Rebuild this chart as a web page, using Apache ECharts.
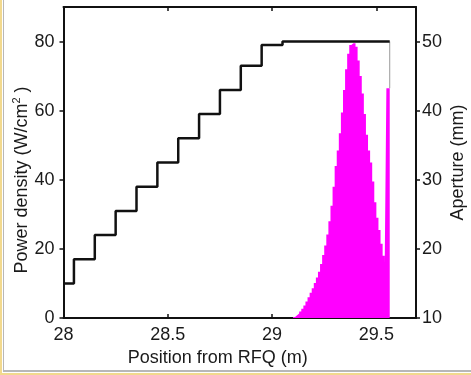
<!DOCTYPE html>
<html>
<head>
<meta charset="utf-8">
<script src="https://cdn.jsdelivr.net/npm/echarts@6/dist/echarts.min.js"></script>
<style>
  html, body { margin: 0; padding: 0; background: #ffffff; }
  #chart { position: absolute; left: 0; top: 0; width: 471px; height: 375px; }
  .deco { position: absolute; }
</style>
</head>
<body>
<div id="chart"></div>
<div class="deco" style="left:0;top:0;width:2px;height:375px;background:#f2d98e;"></div>
<div class="deco" style="left:3px;top:0;width:1px;height:372px;background:#b8b8b8;"></div>
<div class="deco" style="left:3px;top:370px;width:468px;height:2px;background:#b8b8b8;"></div>
<div class="deco" style="left:0;top:373px;width:471px;height:2px;background:#f2d98e;"></div>
<script>
// X tick settings
const xMin = 28, xMax = 29.69, xInterval = 0.5;
const leftMin = 0, leftMax = 90, leftInterval = 20;
const rightMin = 10, rightMax = 55, rightInterval = 10;

// Aperture (mm) step profile: position of each step start, and aperture value
const apertureX = [28.00, 28.05, 28.15, 28.25, 28.35, 28.45, 28.55, 28.65, 28.75, 28.85, 28.95, 29.05, 29.564];
const apertureY = [15, 18.5, 22, 25.5, 29, 32.5, 36, 39.5, 43, 46.5, 49.5, 50, 50];

// Power density (W/cm^2) histogram: bin start positions and values
const powerX = [29.10, 29.11, 29.12, 29.13, 29.14, 29.15, 29.16, 29.17, 29.18, 29.19,
                29.20, 29.21, 29.22, 29.23, 29.24, 29.25, 29.26, 29.27, 29.28, 29.29,
                29.30, 29.31, 29.32, 29.33, 29.34, 29.35, 29.36, 29.37, 29.38, 29.39,
                29.40, 29.41, 29.42, 29.43, 29.44, 29.45, 29.46, 29.47, 29.48, 29.49,
                29.50, 29.51, 29.52, 29.53, 29.54, 29.548, 29.564];
const powerY = [0.3, 0.8, 1.3, 1.9, 2.7, 3.6, 4.8, 6.0, 7.3, 8.6,
                10.1, 11.7, 13.4, 15.6, 18.2, 21.0, 24.2, 28.0, 32.5, 38.0,
                44.0, 48.5, 53.5, 59.5, 66.0, 72.0, 76.5, 79.0, 79.5, 79.5,
                78.5, 74.5, 70.0, 65.0, 59.0, 53.0, 48.5, 45.0, 39.5, 33.5,
                29.0, 25.5, 21.5, 18.0, 15.5, 66.5, 66.5];

// thin grey edge line at the end of the data
const edgeX = [29.564, 29.564];
const edgeY = [66.5, 80];

const FONT = 'Liberation Sans';
const TXT = '#1a1a1a';

const chart = echarts.init(document.getElementById('chart'), null, { renderer: 'canvas' });

const axisLine = { show: true, lineStyle: { color: '#111', width: 2 } };

const option = {
  backgroundColor: '#ffffff',
  animation: false,
  grid: { left: 63.5, right: 55, top: 7, bottom: 57, show: false, containLabel: false, outerBoundsMode: 'none' },
  xAxis: [
    {
      type: 'value', min: xMin, max: xMax, interval: xInterval, position: 'bottom',
      axisLine: axisLine,
      axisTick: { show: true, inside: true, length: 4, lineStyle: { color: '#111', width: 1.5 } },
      axisLabel: { show: true, margin: 8, fontFamily: FONT, fontSize: 18, color: TXT, showMaxLabel: false,
        formatter: v => String(v) },
      splitLine: { show: false },
      name: 'Position from RFQ (m)', nameLocation: 'middle', nameGap: 27,
      nameTextStyle: { fontFamily: FONT, fontSize: 18, color: TXT, padding: [0, 44, 0, 0] }
    },
    {
      type: 'value', min: xMin, max: xMax, interval: xInterval, position: 'top',
      axisLine: axisLine,
      axisTick: { show: true, inside: true, length: 4, lineStyle: { color: '#111', width: 1.5 } },
      axisLabel: { show: false },
      splitLine: { show: false }
    }
  ],
  yAxis: [
    {
      type: 'value', min: leftMin, max: leftMax, interval: leftInterval, position: 'left',
      axisLine: axisLine,
      axisTick: { show: true, inside: false, length: 4, lineStyle: { color: '#111', width: 1.5 } },
      axisLabel: { show: true, margin: 9, fontFamily: FONT, fontSize: 18, color: TXT, showMaxLabel: false },
      splitLine: { show: false },
      name: '{a|Power density (W/cm}{s|2}{a| )}', nameLocation: 'middle', nameGap: 30, nameRotate: 90,
      nameMoveOverlap: false,
      nameTextStyle: {
        fontFamily: FONT, fontSize: 18, color: TXT, padding: [0, 35, 0, 0],
        rich: {
          a: { fontFamily: FONT, fontSize: 18, color: TXT, lineHeight: 22 },
          s: { fontFamily: FONT, fontSize: 11, color: TXT, verticalAlign: 'top', lineHeight: 22, padding: [0, 0, 0, 0] }
        }
      }
    },
    {
      type: 'value', min: rightMin, max: rightMax, interval: rightInterval, position: 'right',
      axisLine: axisLine,
      axisTick: { show: true, inside: false, length: 4, lineStyle: { color: '#111', width: 1.5 } },
      axisLabel: { show: true, margin: 6, fontFamily: FONT, fontSize: 18, color: TXT, showMaxLabel: false },
      splitLine: { show: false },
      name: 'Aperture (mm)', nameLocation: 'middle', nameGap: 33, nameRotate: 90,
      nameMoveOverlap: false,
      nameTextStyle: { fontFamily: FONT, fontSize: 18, color: TXT }
    }
  ],
  series: [
    {
      name: 'Power density', type: 'line', xAxisIndex: 0, yAxisIndex: 0,
      step: 'end', symbol: 'none', silent: true,
      lineStyle: { width: 0, color: '#ff00ff' },
      areaStyle: { color: '#ff00ff', opacity: 1 },
      data: powerX.map((x, i) => [x, powerY[i]]),
      z: 2
    },
    {
      name: 'Edge', type: 'line', xAxisIndex: 0, yAxisIndex: 0,
      symbol: 'none', silent: true,
      lineStyle: { width: 1, color: '#9a9a9a' },
      data: edgeX.map((x, i) => [x, edgeY[i]]),
      z: 3
    },
    {
      name: 'Aperture', type: 'line', xAxisIndex: 0, yAxisIndex: 1,
      step: 'end', symbol: 'none', silent: true,
      lineStyle: { width: 2.5, color: '#111111' },
      data: apertureX.map((x, i) => [x, apertureY[i]]),
      z: 4
    }
  ]
};

chart.setOption(option);
</script>
</body>
</html>
